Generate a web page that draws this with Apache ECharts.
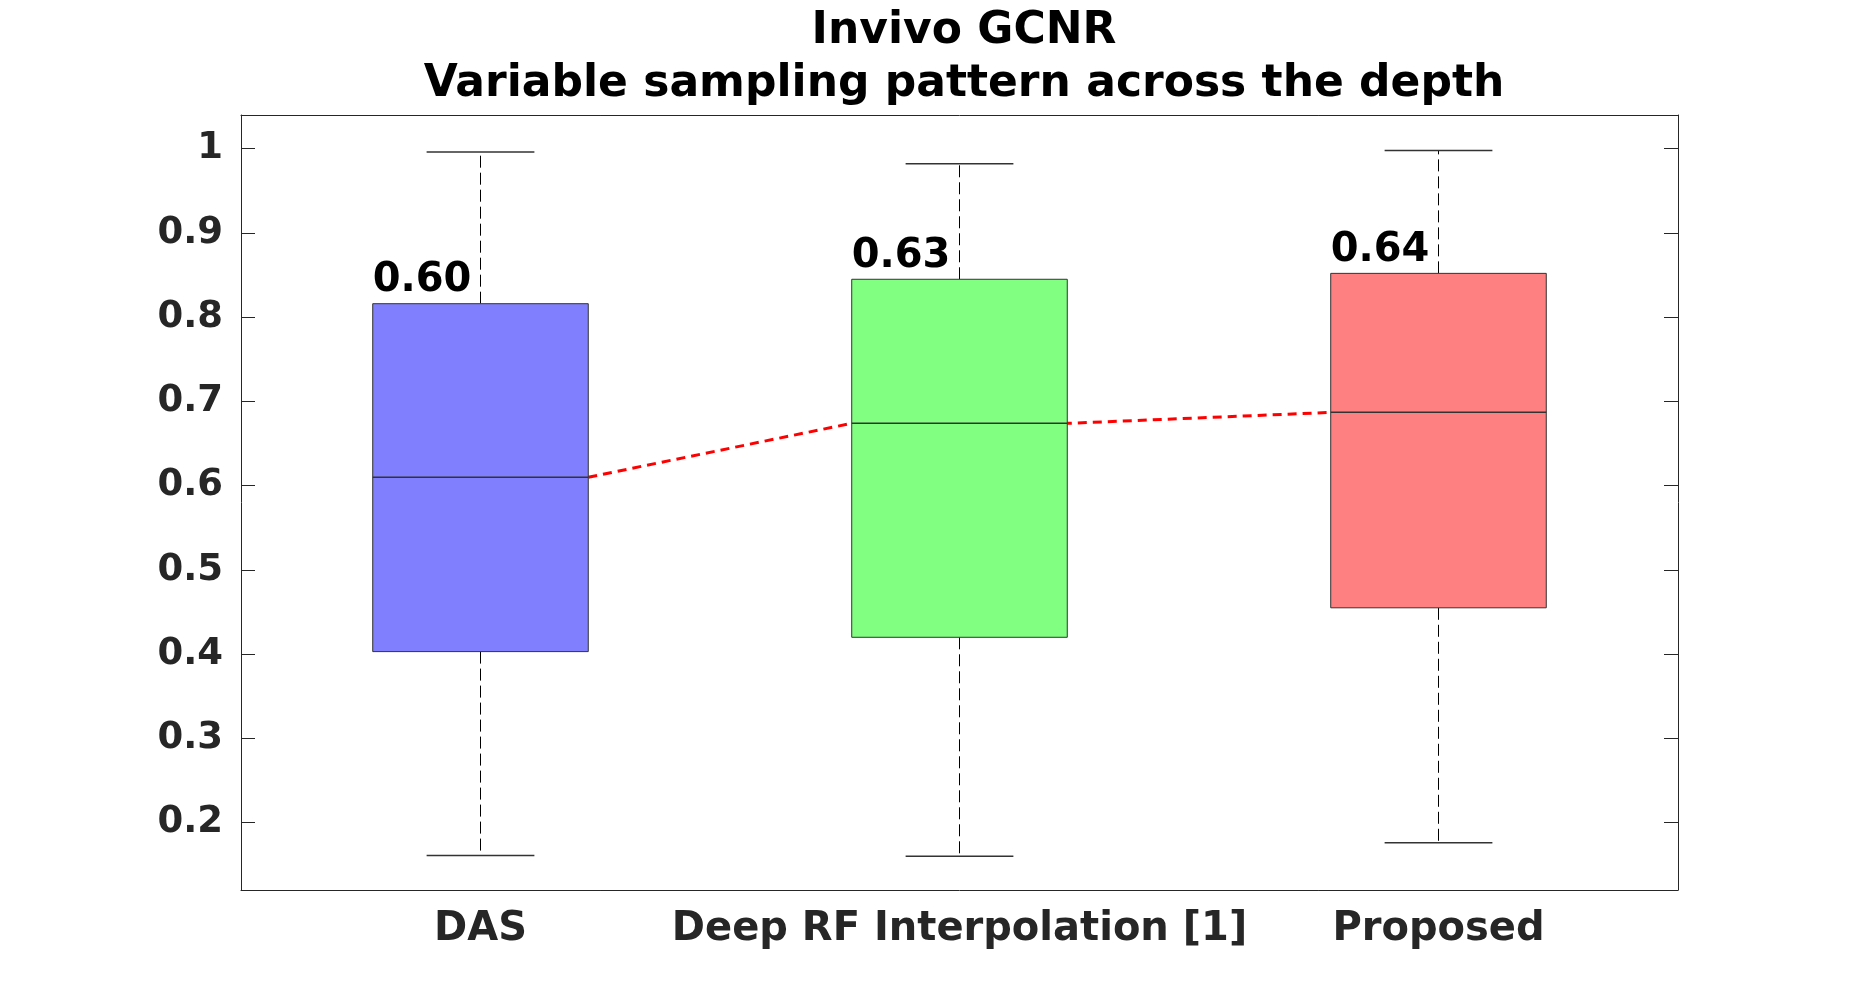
<!DOCTYPE html>
<html>
<head>
<meta charset="utf-8">
<script src="https://cdn.jsdelivr.net/npm/echarts@6/dist/echarts.min.js"></script>
<style>
  html, body { margin: 0; padding: 0; background: #fff; }
  #chart { width: 1855px; height: 1001px; }
</style>
</head>
<body>
<div id="chart"></div>
<script>
// box statistics
var categories = ['DAS', 'Deep RF Interpolation [1]', 'Proposed'];
var whiskerLow = [0.161, 0.160, 0.176];
var q1 = [0.403, 0.420, 0.455];
var median = [0.610, 0.674, 0.687];
var q3 = [0.816, 0.845, 0.852];
var whiskerHigh = [0.996, 0.982, 0.998];
var meanLabels = ['0.60', '0.63', '0.64'];
var boxColors = ['#8080ff', '#80ff80', '#ff8080'];
var yTicks = [0.2, 0.3, 0.4, 0.5, 0.6, 0.7, 0.8, 0.9, 1];

var boxFrac = 0.45;   // box width as part of category band
var font = 'DejaVu Sans';
var axisColor = '#262626';

var boxData = categories.map(function (c, i) {
    return [i, whiskerLow[i], q1[i], median[i], q3[i], whiskerHigh[i]];
});

// red dashed link between medians, from box edge to box edge
var linkData = [];
median.forEach(function (m, i) {
    if (i > 0) linkData.push([i - boxFrac / 2, m]);
    if (i < median.length - 1) linkData.push([i + boxFrac / 2, m]);
});

function renderBox(params, api) {
    var i = api.value(0);
    var band = api.size([1, 0])[0];
    var w = band * boxFrac;
    var pLow = api.coord([i, api.value(1)]);
    var pQ1 = api.coord([i, api.value(2)]);
    var pMed = api.coord([i, api.value(3)]);
    var pQ3 = api.coord([i, api.value(4)]);
    var pHigh = api.coord([i, api.value(5)]);
    var x = pMed[0];
    var whisk = { stroke: '#000', lineWidth: 1, lineDash: [12, 5] };
    var cap = { stroke: '#333', lineWidth: 1.5 };
    return {
        type: 'group',
        children: [
            { type: 'line', shape: { x1: x, y1: pQ3[1], x2: x, y2: pHigh[1] }, style: whisk },
            { type: 'line', shape: { x1: x, y1: pQ1[1], x2: x, y2: pLow[1] }, style: whisk },
            { type: 'line', shape: { x1: x - w / 4, y1: pHigh[1], x2: x + w / 4, y2: pHigh[1] }, style: cap },
            { type: 'line', shape: { x1: x - w / 4, y1: pLow[1], x2: x + w / 4, y2: pLow[1] }, style: cap },
            {
                type: 'rect',
                shape: { x: x - w / 2, y: pQ3[1], width: w, height: pQ1[1] - pQ3[1] },
                style: { fill: boxColors[i], stroke: '#333', lineWidth: 1 }
            },
            { type: 'line', shape: { x1: x - w / 2, y1: pMed[1], x2: x + w / 2, y2: pMed[1] }, style: { stroke: '#333', lineWidth: 1.5 } },
            {
                type: 'text',
                x: x - w / 2, y: pQ3[1] - 3,
                style: {
                    text: meanLabels[i], fill: '#000', font: 'bold 40px "' + font + '"',
                    textAlign: 'left', textVerticalAlign: 'bottom'
                }
            }
        ]
    };
}

var option = {
    animation: false,
    backgroundColor: '#fff',
    title: {
        text: 'Invivo GCNR\nVariable sampling pattern across the depth',
        left: 959,
        top: 0,
        textAlign: 'center',
        textStyle: { fontFamily: font, fontSize: 44, fontWeight: 'bold', color: '#000', lineHeight: 53 }
    },
    grid: { left: 241, right: 177, top: 115, bottom: 111 },
    xAxis: [
        {
            type: 'category', data: categories, position: 'bottom',
            axisLine: { onZero: false, lineStyle: { color: axisColor, width: 1 } },
            axisTick: { inside: true, length: 14, alignWithLabel: true, lineStyle: { color: axisColor } },
            axisLabel: {
                interval: 0, hideOverlap: false, margin: 20,
                fontFamily: font, fontSize: 40, fontWeight: 'bold', color: axisColor
            },
            splitLine: { show: false }
        },
        {
            type: 'category', data: categories, position: 'top',
            axisLine: { onZero: false, lineStyle: { color: axisColor, width: 1 } },
            axisTick: { inside: true, length: 14, alignWithLabel: true, lineStyle: { color: axisColor } },
            axisLabel: { show: false }
        },
        { type: 'value', min: -0.5, max: 2.5, show: false }
    ],
    yAxis: [
        {
            type: 'value', min: 0.12, max: 1.04, position: 'left',
            axisLine: { show: true, onZero: false, lineStyle: { color: axisColor, width: 1 } },
            axisTick: { inside: true, length: 14, customValues: yTicks, lineStyle: { color: axisColor } },
            axisLabel: {
                margin: 18, customValues: yTicks, fontFamily: font, fontSize: 37, fontWeight: 'bold', color: axisColor,
                formatter: function (v) { return String(+v.toFixed(1)); }
            },
            splitLine: { show: false }
        },
        {
            type: 'value', min: 0.12, max: 1.04, position: 'right',
            axisLine: { show: true, onZero: false, lineStyle: { color: axisColor, width: 1 } },
            axisTick: { inside: true, length: 14, customValues: yTicks, lineStyle: { color: axisColor } },
            axisLabel: { show: false },
            splitLine: { show: false }
        }
    ],
    series: [
        {
            type: 'line', xAxisIndex: 2, yAxisIndex: 0, data: linkData, z: 1,
            symbol: 'none', lineStyle: { color: '#ff0000', width: 3, type: [9, 6] }
        },
        {
            type: 'custom', xAxisIndex: 0, yAxisIndex: 0, data: boxData, z: 2,
            renderItem: renderBox,
            encode: { x: 0, y: [1, 2, 3, 4, 5] }
        }
    ]
};

var myChart = echarts.init(document.getElementById('chart'));
myChart.setOption(option);
</script>
</body>
</html>
